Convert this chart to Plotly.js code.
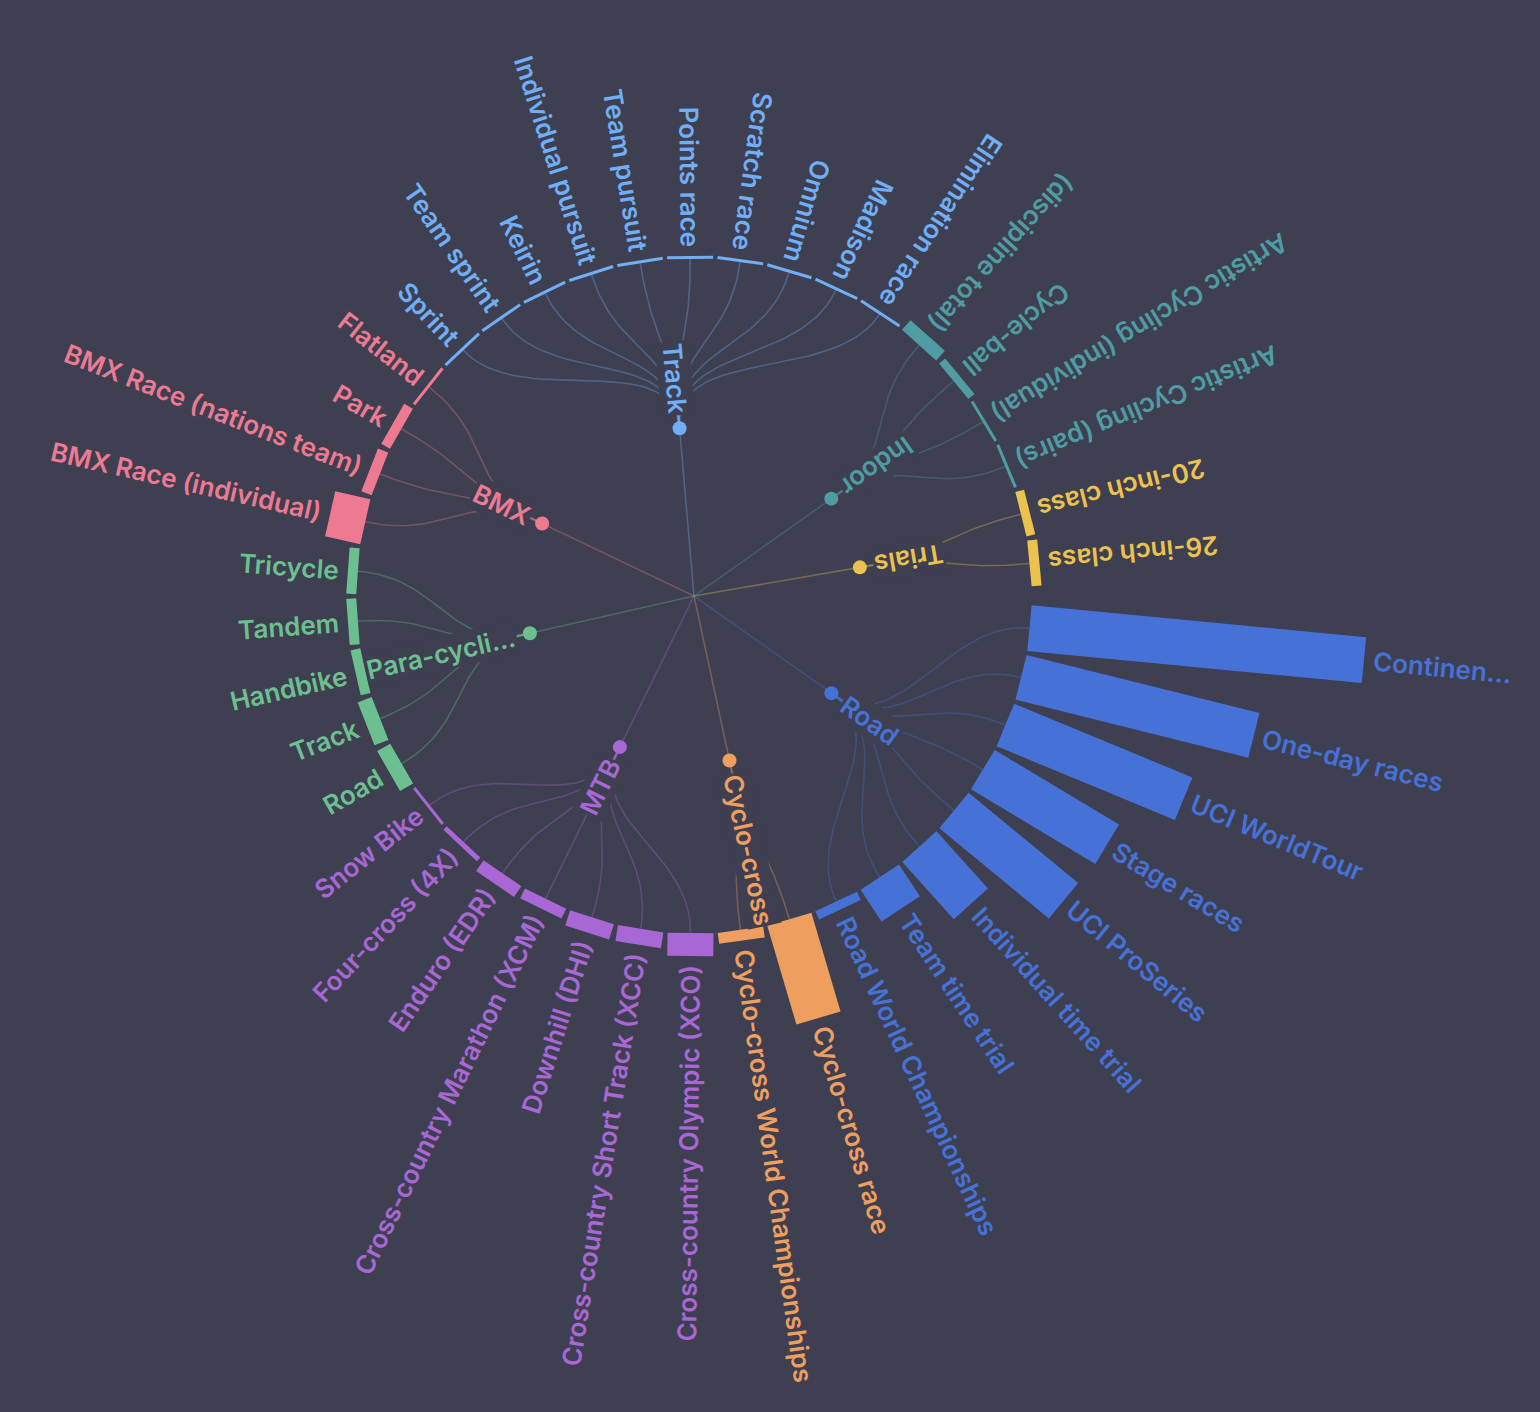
<!DOCTYPE html>
<html><head><meta charset="utf-8">
<script src="https://cdn.plot.ly/plotly-3.0.1.min.js"></script>
<style>html,body{margin:0;padding:0;background:#3e3f51;}</style>
</head><body><div id="chart" style="width:1540px;height:1412px"></div>
<script>
// ---------------- DATA ----------------
const groupNames  = ["Road","Cyclo-cross","MTB","Para-cycli...","BMX","Track","Indoor","Trials"];
const groupColors = ["#4672d8","#ee9e5f","#a867d4","#6cc090","#ee7a92","#70aef5","#4f9ca3","#ebc24f"];

const leafNames = [
  "Continen...","One-day races","UCI WorldTour","Stage races","UCI ProSeries","Individual time trial","Team time trial","Road World Championships",
  "Cyclo-cross race","Cyclo-cross World Championships",
  "Cross-country Olympic (XCO)","Cross-country Short Track (XCC)","Downhill (DHI)","Cross-country Marathon (XCM)","Enduro (EDR)","Four-cross (4X)","Snow Bike",
  "Road","Track","Handbike","Tandem","Tricycle",
  "BMX Race (individual)","BMX Race (nations team)","Park","Flatland",
  "Sprint","Team sprint","Keirin","Individual pursuit","Team pursuit","Points race","Scratch race","Omnium","Madison","Elimination race",
  "(discipline total)","Cycle-ball","Artistic Cycling (individual)","Artistic Cycling (pairs)",
  "20-inch class","26-inch class"
];
const leafGroup = [
  0,0,0,0,0,0,0,0,
  1,1,
  2,2,2,2,2,2,2,
  3,3,3,3,3,
  4,4,4,4,
  5,5,5,5,5,5,5,5,5,5,
  6,6,6,6,
  7,7
];
const leafValues = [
  336,240,193,145,142,77,38,9,
  103,11,
  23,16,16,11,13,5,3,
  15,15,10,10,10,
  36,11,10,3,
  3,3,3,3,3,3,3,3,3,3,
  13,8,3,3,
  9,10
];

// ---------------- LAYOUT CONSTANTS ----------------
const W = 1540, H = 1412, CX = 694, CY = 596;
const BG = "#3e3f51";
const R_INNER = 337, R_NODE = 168.3;
const START_ANGLE = 5.47, STEP = 8.512;   // degrees, clockwise from 3 o'clock
const BAR_W = 46, LABEL_PAD = 9, NODE_LABEL_GAP = 15;
const FONT = "Inter", FONT_SIZE = 26, FONT_WEIGHT = 600;
const PX_PER_UNIT = 1;

const ctx = document.createElement("canvas").getContext("2d");
function textWidth(s){ ctx.font = FONT_WEIGHT + " " + FONT_SIZE + "px " + FONT; return ctx.measureText(s).width; }
const rad = d => d * Math.PI / 180;
// screen-angle (clockwise, y down) -> plot coords (y up)
function P(r, deg, s){ s = s || 0; const t = rad(deg);
  const sx = r*Math.cos(t) - s*Math.sin(t), sy = r*Math.sin(t) + s*Math.cos(t);
  return [sx, -sy]; }
function hexA(hex, a){ const n = parseInt(hex.slice(1),16);
  return "rgba(" + (n>>16&255) + "," + (n>>8&255) + "," + (n&255) + "," + a + ")"; }
function isOutward(deg){ const t = ((deg % 360) + 360) % 360; return t < 90; }
function normAngle(a){ a = ((a % 360) + 360) % 360; return a > 180 ? a - 360 : a; }

const leafAngle = leafNames.map((_, i) => START_ANGLE + i * STEP);
const groupAngle = groupNames.map((_, g) => {
  const a = leafAngle.filter((_, i) => leafGroup[i] === g);
  return a.reduce((s, v) => s + v, 0) / a.length;
});

const traces = [];
// links node -> leaf (radial bump curves) and center -> node
groupNames.forEach((g, gi) => {
  const xs = [], ys = [];
  leafNames.forEach((_, i) => {
    if (leafGroup[i] !== gi) return;
    const rm = (R_NODE + R_INNER) / 2;
    const p0 = P(R_NODE, groupAngle[gi]), p1 = P(rm, groupAngle[gi]),
          p2 = P(rm, leafAngle[i]), p3 = P(R_INNER, leafAngle[i]);
    for (let k = 0; k <= 40; k++) {
      const t = k / 40, u = 1 - t;
      const b0 = u*u*u, b1 = 3*u*u*t, b2 = 3*u*t*t, b3 = t*t*t;
      xs.push(b0*p0[0] + b1*p1[0] + b2*p2[0] + b3*p3[0]);
      ys.push(b0*p0[1] + b1*p1[1] + b2*p2[1] + b3*p3[1]);
    }
    xs.push(null); ys.push(null);
  });
  const c = P(R_NODE, groupAngle[gi]);
  xs.push(0, c[0], null); ys.push(0, c[1], null);
  traces.push({type:"scatter", mode:"lines", x:xs, y:ys, hoverinfo:"skip",
    line:{color:hexA(groupColors[gi], 0.33), width:1.6}});
});
// bars
leafNames.forEach((name, i) => {
  const a = leafAngle[i], len = leafValues[i] * PX_PER_UNIT, h = BAR_W / 2;
  const c = [P(R_INNER, a, -h), P(R_INNER + len, a, -h), P(R_INNER + len, a, h), P(R_INNER, a, h)];
  c.push(c[0]);
  traces.push({type:"scatter", mode:"lines", x:c.map(p=>p[0]), y:c.map(p=>p[1]),
    fill:"toself", fillcolor:groupColors[leafGroup[i]], line:{width:0, color:groupColors[leafGroup[i]]},
    hoverinfo:"skip", name:name});
});
// nodes
traces.push({type:"scatter", mode:"markers",
  x:groupNames.map((_, g) => P(R_NODE, groupAngle[g])[0]),
  y:groupNames.map((_, g) => P(R_NODE, groupAngle[g])[1]),
  marker:{size:14, color:groupColors, line:{width:0}}, hoverinfo:"skip"});

// labels
const annotations = [];
function addLabel(text, deg, rStart, color, bg){
  const w = textWidth(text), rc = rStart + w / 2;
  const p = P(rc, deg);
  const ann = {x:p[0], y:p[1], xref:"x", yref:"y", text:text, showarrow:false,
    xanchor:"center", yanchor:"middle",
    textangle: normAngle(isOutward(deg) ? deg : deg + 180),
    font:{family:FONT, size:FONT_SIZE, color:color, weight:FONT_WEIGHT}};
  if (bg) { ann.bgcolor = bg; ann.borderpad = 1; }
  annotations.push(ann);
}
leafNames.forEach((name, i) => {
  addLabel(name, leafAngle[i], R_INNER + leafValues[i]*PX_PER_UNIT + LABEL_PAD, groupColors[leafGroup[i]]);
});
groupNames.forEach((g, gi) => {
  addLabel(g, groupAngle[gi], R_NODE + NODE_LABEL_GAP, groupColors[gi], BG);
});

const layout = {
  width: W, height: H, autosize: false,
  margin: {l:0, r:0, t:0, b:0, pad:0},
  paper_bgcolor: BG, plot_bgcolor: BG,
  showlegend: false, hovermode: false,
  xaxis: {range:[-CX, W - CX], visible:false, fixedrange:true},
  yaxis: {range:[-(H - CY), CY], visible:false, fixedrange:true},
  annotations: annotations
};
Plotly.newPlot("chart", traces, layout, {staticPlot:true, displayModeBar:false});
</script>
</body></html>
